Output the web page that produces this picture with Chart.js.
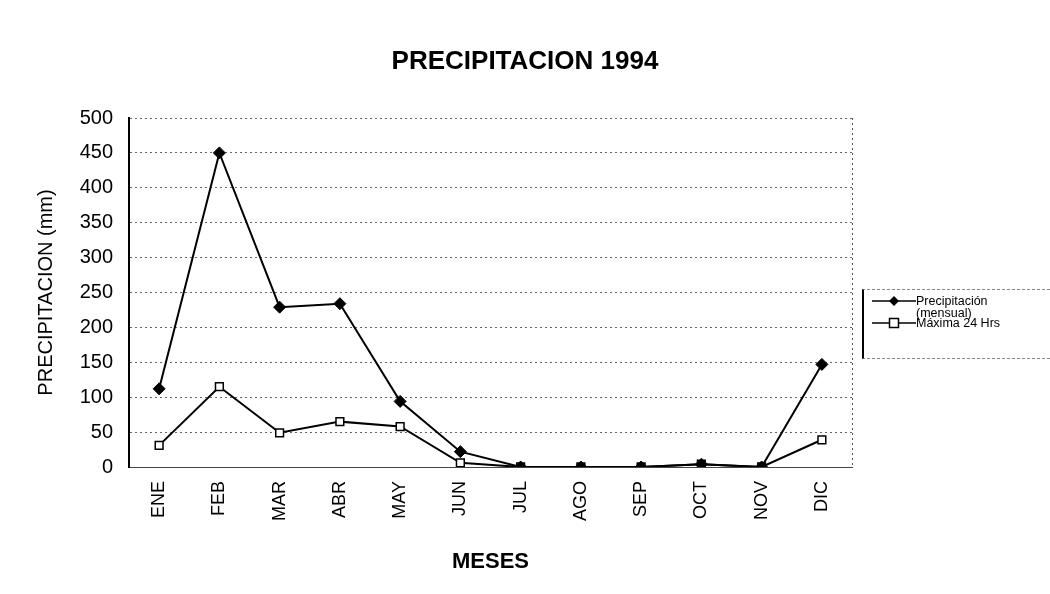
<!DOCTYPE html>
<html>
<head>
<meta charset="utf-8">
<script src="https://cdn.jsdelivr.net/npm/chart.js@4"></script>
<style>
  html, body { margin: 0; padding: 0; background: #fff; }
  #wrap { position: relative; width: 1050px; height: 594px; }
  #legend {
    position: absolute; left: 862px; top: 289px; width: 186px; height: 68px;
    border-left: 2px solid #000; border-top: 1px dashed #888; border-bottom: 1px dashed #888;
    font-family: "Liberation Sans", Arial, sans-serif; font-size: 12.5px; color: #000;
  }
  .item { position: absolute; left: 6px; display: flex; align-items: flex-start; line-height: 12px; }
  .item svg { flex: none; }
</style>
</head>
<body>
<div id="wrap">
  <canvas id="chart" width="1050" height="594"></canvas>
  <div id="legend">
    <div class="item" style="top: 5px;">
      <svg width="46" height="12"><line x1="2" y1="6" x2="46" y2="6" stroke="#000" stroke-width="1.5"/><polygon points="24,1 29,6 24,11 19,6" fill="#000"/></svg>
      <span>Precipitación<br>(mensual)</span>
    </div>
    <div class="item" style="top: 27px;">
      <svg width="46" height="12"><line x1="2" y1="6" x2="46" y2="6" stroke="#000" stroke-width="1.5"/><rect x="19.5" y="1.5" width="9" height="9" fill="#fff" stroke="#000" stroke-width="1.5"/></svg>
      <span>Máxima 24 Hrs</span>
    </div>
  </div>
</div>
<script>
// data
const months = ['ENE', 'FEB', 'MAR', 'ABR', 'MAY', 'JUN', 'JUL', 'AGO', 'SEP', 'OCT', 'NOV', 'DIC'];
const precipMensual = [112, 450, 229, 234, 94, 22, 0, 0, 0, 4, 0, 147];
const maxima24 = [31, 115, 49, 65, 58, 6, 0, 0, 0, 4, 0, 39];
const yTicks = [0, 50, 100, 150, 200, 250, 300, 350, 400, 450, 500];

const font = '"Liberation Sans", Arial, sans-serif';

// dotted frame on the right side of the plot
const frame = {
    id: 'frame',
    afterDraw(chart) {
        const { ctx, chartArea } = chart;
        ctx.save();
        ctx.strokeStyle = '#555';
        ctx.lineWidth = 1;
        ctx.setLineDash([2, 3]);
        ctx.beginPath();
        ctx.moveTo(chartArea.right + 0.5, chartArea.top);
        ctx.lineTo(chartArea.right + 0.5, chartArea.bottom);
        ctx.stroke();
        ctx.restore();
    }
};

new Chart(document.getElementById('chart').getContext('2d'), {
    type: 'line',
    data: {
        labels: months,
        datasets: [{
            label: 'Precipitación (mensual)',
            data: precipMensual,
            borderColor: '#000',
            backgroundColor: '#000',
            borderWidth: 2,
            pointStyle: 'rectRot',
            pointRadius: 6,
            pointBorderWidth: 1,
            tension: 0
        }, {
            label: 'Máxima 24 Hrs',
            data: maxima24,
            borderColor: '#000',
            backgroundColor: '#fff',
            borderWidth: 2,
            pointStyle: 'rect',
            pointRadius: 5.5,
            pointBorderWidth: 1.5,
            tension: 0
        }]
    },
    options: {
        responsive: false,
        animation: false,
        layout: { padding: 0 },
        plugins: {
            legend: { display: false },
            tooltip: { enabled: false },
            title: {
                display: true,
                text: 'PRECIPITACION 1994',
                color: '#000',
                font: { family: font, size: 26, weight: 'bold' },
                padding: { top: 46, bottom: 40.8 }
            }
        },
        scales: {
            x: {
                offset: true,
                grid: { display: false },
                border: { color: '#444', width: 1 },
                ticks: {
                    color: '#000',
                    font: { family: font, size: 18 },
                    minRotation: 90,
                    maxRotation: 90,
                    padding: 6
                },
                title: {
                    display: true,
                    text: 'MESES',
                    color: '#000',
                    font: { family: font, size: 22, weight: 'bold' },
                    padding: { top: 0, bottom: 19 }
                },
                afterFit: (s) => { s.height = 127; }
            },
            y: {
                min: 0,
                max: 500,
                afterBuildTicks: (s) => { s.ticks = yTicks.map(v => ({ value: v })); },
                grid: { color: '#666', lineWidth: 1, drawTicks: false },
                border: { color: '#000', width: 2, dash: [2, 3] },
                ticks: {
                    color: '#000',
                    font: { family: font, size: 20 },
                    padding: 16
                },
                title: {
                    display: true,
                    text: 'PRECIPITACION (mm)',
                    color: '#000',
                    font: { family: font, size: 20 },
                    padding: { top: 34, bottom: 0 }
                },
                afterFit: (s) => { s.width = 129; }
            },
            // empty right-hand box that holds the space for the legend
            side: {
                position: 'right',
                display: true,
                grid: { display: false },
                border: { display: false },
                ticks: { display: false },
                afterFit: (s) => { s.width = 198; }
            }
        }
    },
    plugins: [frame]
});
</script>
</body>
</html>
